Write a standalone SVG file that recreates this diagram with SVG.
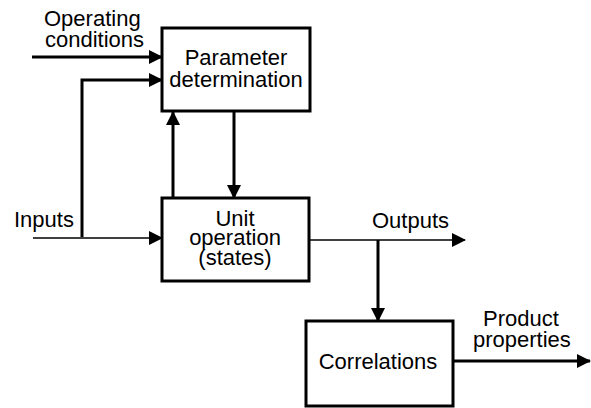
<svg xmlns="http://www.w3.org/2000/svg" width="591" height="408" viewBox="0 0 591 408">
  <style>
    .box { fill: #fff; stroke: #000; stroke-width: 3; }
    .thick { fill: none; stroke: #000; stroke-width: 3; }
    .thin { fill: none; stroke: #000; stroke-width: 1.5; }
    .lbl { font-family: "Liberation Sans", Arial, sans-serif; font-size: 22px; fill: #000; }
    .mid { text-anchor: middle; }
  </style>
  <defs>
    <marker id="tri" markerWidth="14" markerHeight="14" refX="13" refY="7" orient="auto" markerUnits="userSpaceOnUse">
      <path d="M0,0 L14,7 L0,14 Z" fill="#000"/>
    </marker>
  </defs>

  <g id="connectors">
    <!-- operating conditions into parameter determination -->
    <line class="thick" x1="32" y1="57" x2="162" y2="57" marker-end="url(#tri)"/>
    <!-- branch of inputs up to parameter determination -->
    <polyline class="thick" points="82,237 82,80 162,80" marker-end="url(#tri)"/>
    <!-- inputs into unit operation -->
    <line class="thin" x1="33" y1="238" x2="162" y2="238" marker-end="url(#tri)"/>
    <!-- states feed back to parameter determination -->
    <line class="thick" x1="173" y1="198" x2="173" y2="112" marker-end="url(#tri)"/>
    <!-- parameters into unit operation -->
    <line class="thick" x1="234" y1="112" x2="234" y2="198" marker-end="url(#tri)"/>
    <!-- outputs -->
    <line class="thin" x1="309" y1="240" x2="465" y2="240" marker-end="url(#tri)"/>
    <!-- outputs to correlations -->
    <line class="thick" x1="378" y1="240" x2="378" y2="321" marker-end="url(#tri)"/>
    <!-- product properties -->
    <line class="thick" x1="453" y1="361" x2="590" y2="361" marker-end="url(#tri)"/>
  </g>

  <g id="param">
    <rect class="box" x="162" y="28" width="148" height="83"/>
    <text class="lbl mid" x="236" y="65">Parameter</text>
    <text class="lbl mid" x="236" y="87">determination</text>
  </g>

  <g id="unit">
    <rect class="box" x="162" y="198" width="147" height="83"/>
    <text class="lbl mid" x="235" y="226">Unit</text>
    <text class="lbl mid" x="235" y="245">operation</text>
    <text class="lbl mid" x="235" y="265">(states)</text>
  </g>

  <g id="corr">
    <rect class="box" x="306" y="321" width="147" height="85"/>
    <text class="lbl mid" x="378" y="369">Correlations</text>
  </g>

  <g id="labels">
    <text class="lbl" x="44" y="26">Operating</text>
    <text class="lbl" x="45" y="47">conditions</text>
    <text class="lbl" x="14" y="227">Inputs</text>
    <text class="lbl" x="372" y="228">Outputs</text>
    <text class="lbl" x="483" y="326">Product</text>
    <text class="lbl" x="473" y="347">properties</text>
  </g>
</svg>
